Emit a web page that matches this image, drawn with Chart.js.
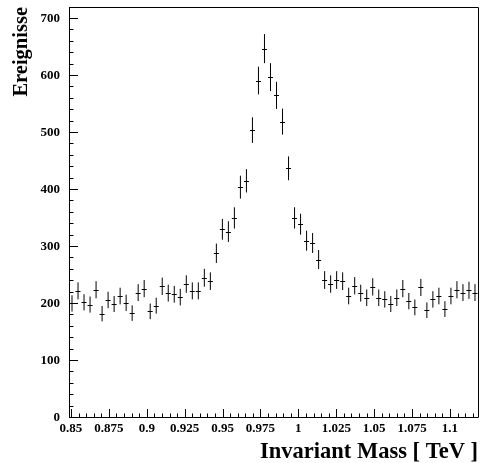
<!DOCTYPE html>
<html><head><meta charset="utf-8">
<script src="https://cdn.jsdelivr.net/npm/chart.js@4.4.0/dist/chart.umd.min.js"></script>
<style>html,body{margin:0;padding:0;background:#fff;}canvas{display:block;}</style>
</head><body>
<canvas id="c" width="482" height="463"></canvas>
<script>
const xTitle = 'Invariant Mass [ TeV ]';
const yTitle = 'Ereignisse';
const xRange = [0.8487, 1.1185];
const yRange = [0, 721];
const binCount = 68;
const counts = [201,223,203,199,225,183,207,200,214,202,184,220,227,187,197,231,219,217,212,235,
  223,223,246,240,289,331,327,351,405,416,505,592,648,598,566,520,438,351,340,311,
  307,278,242,235,242,240,214,232,219,211,230,211,208,200,211,227,205,194,229,189,
  208,214,191,214,225,220,224,220];
const errors = [14.2,14.9,14.2,14.1,15.0,13.5,14.4,14.1,14.6,14.2,13.6,14.8,15.1,13.7,14.0,15.2,14.8,14.7,14.6,15.3,
  14.9,14.9,15.7,15.5,17.0,18.2,18.1,18.7,20.1,20.4,22.5,24.3,25.5,24.5,23.8,22.8,20.9,18.7,18.4,17.6,
  17.5,16.7,15.6,15.3,15.6,15.5,14.6,15.2,14.8,14.5,15.2,14.5,14.4,14.1,14.5,15.1,14.3,13.9,15.1,13.7,
  14.4,14.6,13.8,14.6,15.0,14.8,15.0,14.8];
const xTicks = [0.85,0.875,0.9,0.925,0.95,0.975,1,1.025,1.05,1.075,1.1];
const xTickLabels = ['0.85','0.875','0.9','0.925','0.95','0.975','1','1.025','1.05','1.075','1.1'];
const yTicks = [0,100,200,300,400,500,600,700];
const yTickLabels = ['0','100','200','300','400','500','600','700'];
const xMinorStep = 0.005;
const yMinorStep = 20;

const binW = (xRange[1] - xRange[0]) / binCount;
const binCenters = counts.map((_, i) => xRange[0] + (i + 0.5) * binW);
const points = counts.map((v, i) => ({x: binCenters[i], y: v}));

const FONT = "'Liberation Serif', 'Times New Roman', serif";

const histPlugin = {
  id: 'hist',
  afterDatasetsDraw(chart) {
    const {ctx, scales: {x, y}, chartArea: a} = chart;
    ctx.save();
    // frame
    ctx.strokeStyle = '#000';
    ctx.lineWidth = 1;
    ctx.beginPath();
    ctx.moveTo(a.left + 0.5, a.top + 0.5); ctx.lineTo(a.right + 0.5, a.top + 0.5);
    ctx.lineTo(a.right + 0.5, a.bottom - 0.5); ctx.lineTo(a.left + 0.5, a.bottom - 0.5);
    ctx.closePath();
    ctx.stroke();
    // y ticks
    for (let v = yRange[0]; v <= yRange[1]; v += yMinorStep) {
      const py = Math.round(y.getPixelForValue(v)) - 0.5;
      const major = yTicks.includes(v);
      ctx.beginPath();
      ctx.moveTo(a.left, py); ctx.lineTo(a.left + (major ? 9 : 4.5), py);
      ctx.stroke();
    }
    // x ticks
    const nMin = Math.ceil((xRange[0] - 0.85) / xMinorStep - 1e-6);
    for (let k = nMin; 0.85 + k * xMinorStep <= xRange[1] + 1e-9; k++) {
      const v = 0.85 + k * xMinorStep;
      const px = Math.round(x.getPixelForValue(v)) + 0.5;
      const major = (k % 5) === 0;
      ctx.beginPath();
      ctx.moveTo(px, a.bottom); ctx.lineTo(px, a.bottom - (major ? 9 : 4.5));
      ctx.stroke();
    }
    // error bars
    const ds = chart.data.datasets[0];
    ds.data.forEach((p, i) => {
      const px = x.getPixelForValue(p.x);
      const yT = y.getPixelForValue(p.y + errors[i]);
      const yB = y.getPixelForValue(p.y - errors[i]);
      ctx.strokeStyle = '#000';
      ctx.lineWidth = 1;
      ctx.beginPath(); ctx.moveTo(px, yT); ctx.lineTo(px, yB); ctx.stroke();
      const py = Math.round(y.getPixelForValue(p.y)) + 0.5;
      const xl = x.getPixelForValue(p.x - binW / 2) + 0.5;
      const xr = x.getPixelForValue(p.x + binW / 2) - 0.5;
      ctx.beginPath(); ctx.moveTo(xl, py); ctx.lineTo(xr, py); ctx.stroke();
    });
    ctx.restore();
  }
};

new Chart(document.getElementById('c'), {
  type: 'scatter',
  data: {
    datasets: [{
      label: 'Ereignisse',
      data: points,
      pointRadius: 0,
      pointHoverRadius: 0,
      showLine: false,
      borderColor: '#000',
      backgroundColor: '#000'
    }]
  },
  options: {
    responsive: false,
    animation: false,
    events: [],
    layout: {autoPadding: false, padding: {left: 0, top: 7, right: 4, bottom: 0}},
    plugins: {legend: {display: false}, tooltip: {enabled: false}},
    scales: {
      x: {
        type: 'linear',
        position: 'bottom',
        min: xRange[0],
        max: xRange[1],
        grid: {display: false, drawTicks: false},
        border: {display: false},
        afterBuildTicks: s => { s.ticks = xTicks.map(v => ({value: v})); },
        afterFit: s => { s.height = 45; s.paddingLeft = 0; s.paddingRight = 0; s.paddingTop = 0; s.paddingBottom = 0; },
        ticks: {
          color: '#000',
          padding: 3,
          maxRotation: 0,
          autoSkip: false,
          font: {family: FONT, size: 13, weight: 'bold'},
          callback: (v, i) => xTickLabels[i]
        },
        title: {
          display: true,
          text: xTitle,
          align: 'end',
          color: '#000',
          font: {family: FONT, size: 22.5, weight: 'bold', lineHeight: 1.0},
          padding: {top: 0, bottom: 0}
        }
      },
      y: {
        type: 'linear',
        min: yRange[0],
        max: yRange[1],
        grid: {display: false, drawTicks: false},
        border: {display: false},
        afterBuildTicks: s => { s.ticks = yTicks.map(v => ({value: v})); },
        afterFit: s => { s.width = 69; s.paddingTop = 0; s.paddingBottom = 0; s.paddingLeft = 0; s.paddingRight = 0; },
        ticks: {
          color: '#000',
          padding: 9,
          autoSkip: false,
          font: {family: FONT, size: 13, weight: 'bold'},
          callback: (v, i) => yTickLabels[i]
        },
        title: {
          display: true,
          text: yTitle,
          align: 'end',
          color: '#000',
          font: {family: FONT, size: 20.5, weight: 'bold', lineHeight: 1.2},
          padding: {top: 9, bottom: 0}
        }
      }
    }
  },
  plugins: [histPlugin]
});
</script>
</body></html>
